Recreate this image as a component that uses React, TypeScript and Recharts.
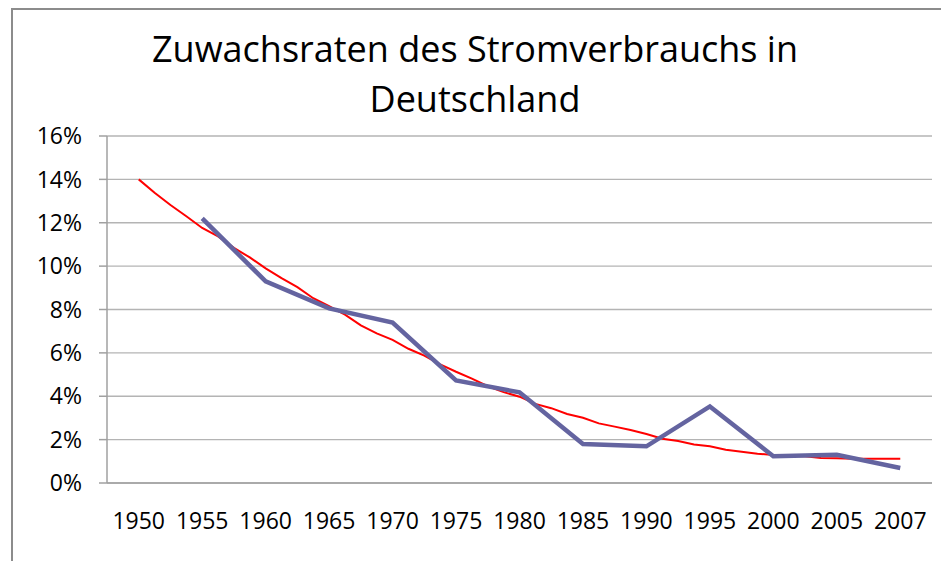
import { LineChart, Line, XAxis, YAxis, CartesianGrid } from "recharts";

// ── Data ────────────────────────────────────────────────────────────────────

const years = ["1950", "1955", "1960", "1965", "1970", "1975", "1980", "1985", "1990", "1995", "2000", "2005", "2007"];

// growth rate per period, % (no value for 1950)
const growth = [null, 12.2, 9.3, 8.05, 7.4, 4.73, 4.18, 1.8, 1.69, 3.53, 1.23, 1.3, 0.69];

// red trend curve, sampled along the category axis (position in category steps)
const trendPos = [
  0, 0.25, 0.5, 0.75, 1, 1.25, 1.5, 1.75, 2, 2.25, 2.5, 2.75, 3, 3.25, 3.5, 3.75, 4, 4.25, 4.5, 4.75, 5,
  5.25, 5.5, 5.75, 6, 6.25, 6.5, 6.75, 7, 7.25, 7.5, 7.75, 8, 8.25, 8.5, 8.75, 9, 9.25, 9.5, 9.75, 10,
  10.25, 10.5, 10.75, 11, 11.25, 11.5, 11.75, 12,
];
const trendValues = [
  14.0, 13.38, 12.82, 12.3, 11.76, 11.37, 10.84, 10.4, 9.9, 9.45, 9.03, 8.52, 8.15, 7.76, 7.27, 6.9, 6.6,
  6.19, 5.87, 5.47, 5.13, 4.81, 4.46, 4.19, 3.98, 3.65, 3.45, 3.18, 3.01, 2.75, 2.6, 2.44, 2.26, 2.04, 1.94,
  1.78, 1.69, 1.53, 1.44, 1.35, 1.29, 1.25, 1.23, 1.15, 1.14, 1.12, 1.12, 1.12, 1.12,
];

const yTicks = [0, 2, 4, 6, 8, 10, 12, 14, 16];

// ── Derived ─────────────────────────────────────────────────────────────────

const growthData = years.map((_, i) => ({ x: i, v: growth[i] }));
const trendData = trendPos.map((p, i) => ({ x: p, v: trendValues[i] }));
const labelTicks = years.map((_, i) => i);
const edgeTicks = [...years.map((_, i) => i - 0.5), years.length - 0.5];
const xDomain = [-0.5, years.length - 0.5];

const FONT = "'Open Sans', sans-serif";
const AXIS = "#a0a0a0";

export default function App() {
  return (
    <div
      style={{
        position: "absolute",
        left: 0,
        top: 0,
        width: 941,
        height: 561,
        background: "#fff",
        overflow: "hidden",
        fontFamily: FONT,
      }}
    >
      {/* chart frame, only top and left edges visible */}
      <div
        style={{
          position: "absolute",
          left: 11,
          top: 8,
          width: 930,
          height: 553,
          borderTop: "2px solid #8c8c8c",
          borderLeft: "2px solid #8c8c8c",
          boxSizing: "border-box",
        }}
      />
      <div
        style={{
          position: "absolute",
          left: 0,
          top: 24,
          width: 950,
          textAlign: "center",
          fontSize: 36,
          lineHeight: "50px",
          color: "#000",
        }}
      >
        Zuwachsraten des Stromverbrauchs in
        <br />
        Deutschland
      </div>

      <div style={{ position: "absolute", left: 0, top: 0 }}>
        <LineChart width={941} height={561} margin={{ top: 136, right: 9, left: 0, bottom: 0 }}>
          <CartesianGrid vertical={false} stroke="#b4b4b4" strokeWidth={1.3} />
          {/* tick marks between categories */}
          <XAxis
            xAxisId="edges"
            dataKey="x"
            type="number"
            domain={xDomain}
            ticks={edgeTicks}
            interval={0}
            tick={false}
            tickSize={7}
            height={1}
            stroke={AXIS}
            strokeWidth={1.5}
            allowDataOverflow
          />
          <XAxis
            xAxisId="years"
            dataKey="x"
            type="number"
            domain={xDomain}
            ticks={labelTicks}
            interval={0}
            tickFormatter={(i: number) => years[i]}
            axisLine={false}
            tickLine={false}
            tickSize={0}
            tickMargin={29}
            height={77}
            tick={{ fill: "#000", fontSize: 23, fontFamily: FONT }}
            allowDataOverflow
          />
          <YAxis
            type="number"
            domain={[0, 16]}
            ticks={yTicks}
            interval={0}
            tickFormatter={(v: number) => `${v}%`}
            width={107}
            tickSize={8}
            tickMargin={17}
            stroke={AXIS}
            strokeWidth={1.5}
            tick={{ fill: "#000", fontSize: 23, fontFamily: FONT }}
          />
          <Line
            xAxisId="years"
            data={trendData}
            dataKey="v"
            stroke="#ff0000"
            strokeWidth={2}
            dot={false}
            activeDot={false}
            isAnimationActive={false}
          />
          <Line
            xAxisId="years"
            data={growthData}
            dataKey="v"
            stroke="#6464a0"
            strokeWidth={4.5}
            dot={false}
            activeDot={false}
            isAnimationActive={false}
          />
        </LineChart>
      </div>
    </div>
  );
}
